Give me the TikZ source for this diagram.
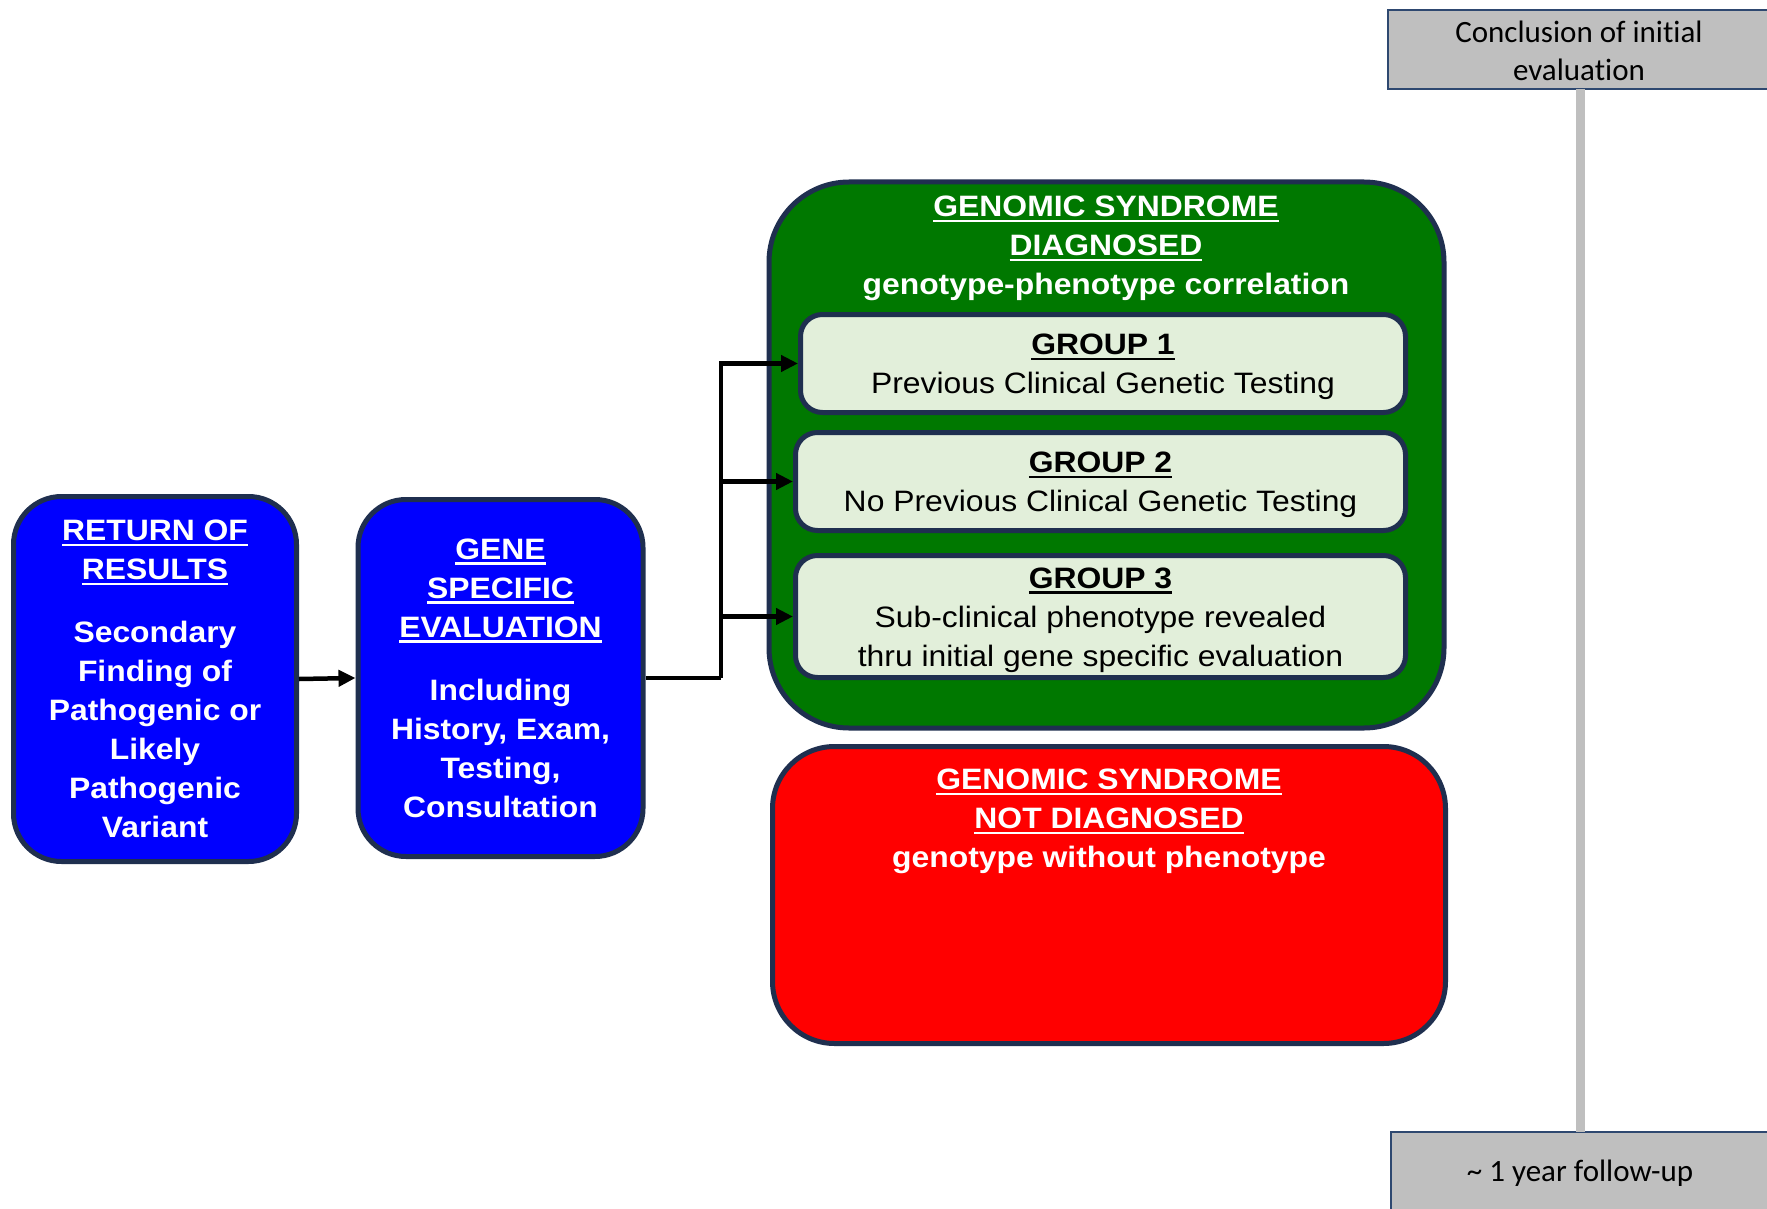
\documentclass[tikz,border=0pt]{standalone}
\usepackage{fontspec}
\setmainfont{Liberation Sans}[FakeStretch=1.08]
\newfontfamily\calfont{Carlito}[Ligatures={NoCommon}]
\usetikzlibrary{arrows.meta}

% underline drawn as a rule in the current text colour
\newsavebox\ulbox
\newcommand\ulx[1]{\leavevmode\sbox\ulbox{#1}\rlap{\rule[-5.5pt]{\wd\ulbox}{2.6pt}}\usebox\ulbox}
% taller first line, pushes the group text down a little
\newcommand\topstrut{\rule{0pt}{28pt}}

\definecolor{edgenavy}{HTML}{1F2F4F}
\definecolor{dxgreen}{HTML}{007800}
\definecolor{grouptint}{HTML}{E2EFDA}
\definecolor{pureblue}{HTML}{0000FF}
\definecolor{purered}{HTML}{FF0000}
\definecolor{greyfill}{HTML}{BFBFBF}
\definecolor{greyedge}{HTML}{2E4870}

\tikzset{
  boldtext/.style={font=\bfseries\fontsize{29.5}{39}\selectfont, align=center, inner sep=0pt},
  stagebox/.style={boldtext, draw=edgenavy, line width=5pt, fill=pureblue,
    rounded corners=48pt, text=white},
  outcomebox/.style={draw=edgenavy, line width=5pt, inner sep=0pt},
  groupbox/.style={draw=edgenavy, line width=5pt, fill=grouptint, rounded corners=22pt,
    font=\fontsize{29.5}{39}\selectfont, align=center, inner sep=0pt, text=black},
  timebox/.style={draw=greyedge, line width=2pt, fill=greyfill, inner sep=0pt},
  timetext/.style={font=\calfont\fontsize{31}{38}\selectfont, align=center, inner sep=0pt},
  conn/.style={line width=4.5pt, -{Triangle[length=17pt,width=16pt]}},
}

\begin{document}
\begin{tikzpicture}[x=1pt, y=-1pt]
  \useasboundingbox (0,0) rectangle (1767,1209);
  \fill[white] (0,0) rectangle (1767,1209);

  % timeline on the right
  \node[timebox, minimum width=402pt, minimum height=79pt] (start) at (1589,49.5) {};
  \node[timebox, minimum width=399pt, minimum height=98pt] (followup) at (1590.5,1181) {};
  \coordinate (tlA) at (1580,89);
  \coordinate (tlB) at (1580,1132);
  \draw[greyfill, line width=9pt] (tlA) -- (tlB);
  \node[timetext] (starttext) at (1579,51) {Conclusion of initial\\evaluation};
  \node[timetext] (followtext) at (1580,1173) {\textasciitilde{} 1 year follow-up};

  % first two stages
  \node[stagebox, minimum width=283pt, minimum height=365pt] (ror) at (155,679)
    {\ulx{RETURN OF}\\\ulx{RESULTS}\\[24pt]Secondary\\Finding of\\Pathogenic or\\Likely\\Pathogenic\\Variant};
  \node[stagebox, minimum width=285pt, minimum height=357pt] (gse) at (500.5,678)
    {\ulx{GENE}\\\ulx{SPECIFIC}\\\ulx{EVALUATION}\\[24pt]Including\\History, Exam,\\Testing,\\Consultation};

  % outcome: diagnosed
  \node[outcomebox, fill=dxgreen, rounded corners=80pt, minimum width=675pt, minimum height=546pt] (dx) at (1106.5,455) {};
  \node[boldtext, text=white] (dxtitle) at (1106,248.5)
    {\ulx{GENOMIC SYNDROME}\\\ulx{DIAGNOSED}\\genotype-phenotype correlation};
  \node[groupbox, minimum width=605pt, minimum height=98pt] (g1) at (1103,363.5)
    {\topstrut\textbf{\ulx{GROUP 1}}\\Previous Clinical Genetic Testing};
  \node[groupbox, minimum width=610pt, minimum height=98pt] (g2) at (1100.5,481.5)
    {\topstrut\textbf{\ulx{GROUP 2}}\\No Previous Clinical Genetic Testing};
  \node[groupbox, minimum width=610pt, minimum height=122pt] (g3) at (1100.5,616.5)
    {\topstrut\textbf{\ulx{GROUP 3}}\\Sub-clinical phenotype revealed\\thru initial gene specific evaluation};

  % outcome: not diagnosed
  \node[outcomebox, fill=purered, rounded corners=62pt, minimum width=673pt, minimum height=297pt] (ndx) at (1109,895) {};
  \node[boldtext, text=white] (ndxtitle) at (1109,821.5)
    {\ulx{GENOMIC SYNDROME}\\\ulx{NOT DIAGNOSED}\\genotype without phenotype};

  % connectors
  \draw[conn] (ror.east) -- (gse.west);
  \coordinate (split) at (721,678);
  \draw[line width=4.5pt] (gse.east) -- (split);
  \draw[conn] (split) |- (g1.west);
  \draw[conn] (split) |- (g2.west);
  \draw[conn] (split) |- (g3.west);
\end{tikzpicture}
\end{document}
